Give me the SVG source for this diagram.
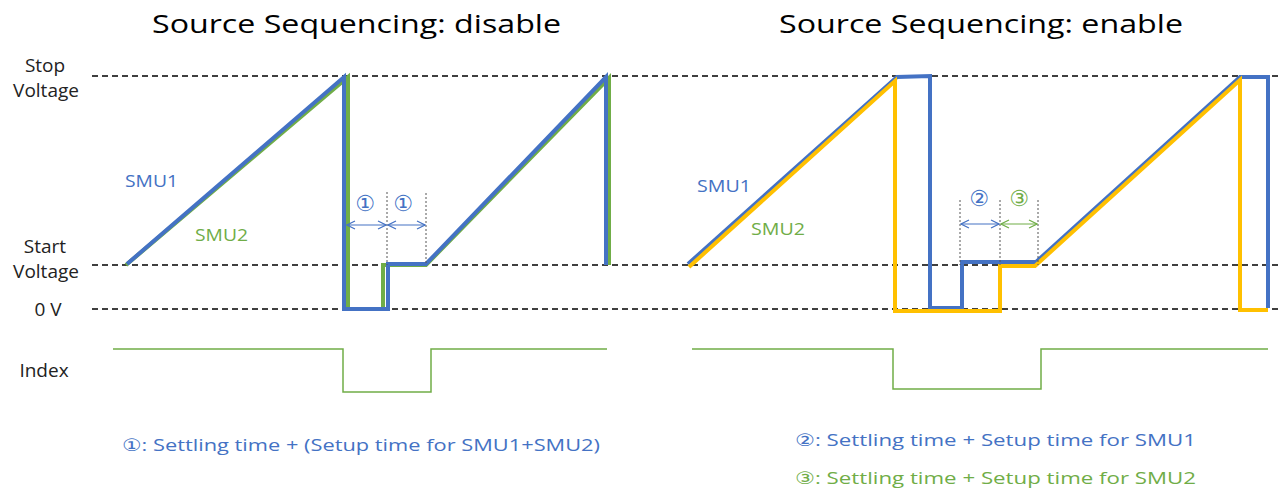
<svg xmlns="http://www.w3.org/2000/svg" width="1282" height="495" viewBox="0 0 1282 495">
<defs>
<style>
text{font-family:"Open Sans","Liberation Sans","DejaVu Sans","Noto Sans CJK JP",sans-serif;}
.title{font-size:26px;fill:#000;}
.lab{font-size:19px;fill:#222;text-anchor:middle;}
.smu{font-size:17px;}
.b{fill:#4472C4;}
.g{fill:#70AD47;}
.note{font-size:17px;}
.ref{stroke:#000;stroke-width:1.5;stroke-dasharray:6 4;fill:none;}
.wb{stroke:#4472C4;stroke-width:4;fill:none;stroke-linejoin:miter;}
.wg{stroke:#70AD47;stroke-width:4;fill:none;}
.wy{stroke:#FFC000;stroke-width:4;fill:none;}
.idx{stroke:#70AD47;stroke-width:1.5;fill:none;}
.dot{stroke:#555;stroke-width:1;stroke-dasharray:2 2;fill:none;}
.ab{stroke:#4472C4;stroke-width:1.2;fill:none;marker-start:url(#hb);marker-end:url(#hb);}
.ag{stroke:#70AD47;stroke-width:1.2;fill:none;marker-start:url(#hg);marker-end:url(#hg);}
.circ{font-size:22px;text-anchor:middle;font-family:"DejaVu Sans","Noto Sans CJK JP",sans-serif;}
</style>
<marker id="hb" viewBox="0 0 10 10" refX="9" refY="5" markerWidth="10" markerHeight="10" markerUnits="userSpaceOnUse" orient="auto-start-reverse"><path d="M1,1 L9,5 L1,9" fill="none" stroke="#4472C4" stroke-width="1.2"/></marker>
<marker id="hg" viewBox="0 0 10 10" refX="9" refY="5" markerWidth="10" markerHeight="10" markerUnits="userSpaceOnUse" orient="auto-start-reverse"><path d="M1,1 L9,5 L1,9" fill="none" stroke="#70AD47" stroke-width="1.2"/></marker>
</defs>
<rect width="1282" height="495" fill="#fff"/>

<g id="titles">
<text class="title" x="152" y="33" textLength="409" lengthAdjust="spacingAndGlyphs">Source Sequencing: disable</text>
<text class="title" x="779" y="33" textLength="404" lengthAdjust="spacingAndGlyphs">Source Sequencing: enable</text>
</g>

<g id="axis-labels">
<text class="lab" x="45" y="72">Stop</text>
<text class="lab" x="46" y="97">Voltage</text>
<text class="lab" x="45" y="253">Start</text>
<text class="lab" x="46" y="278">Voltage</text>
<text class="lab" x="48" y="316">0 V</text>
<text class="lab" x="44" y="377">Index</text>
</g>

<g id="reference-lines">
<line class="ref" x1="92" y1="76" x2="1282" y2="76"/>
<line class="ref" x1="92" y1="265" x2="1282" y2="265"/>
<line class="ref" x1="92" y1="309" x2="1282" y2="309"/>
</g>

<g id="left-waveforms">
<polyline class="wg" points="126,265 348,77 348,309 383,309 383,265 426,265 609,78 609,265"/>
<polyline class="wb" points="127,264 344,77 344,309 388,309 388,264 426,264 606,77 606,265"/>
<polyline class="idx" points="113,349 343,349 343,392 431,392 431,349 607,349"/>
<text class="smu b" x="125" y="187" textLength="53" lengthAdjust="spacingAndGlyphs">SMU1</text>
<text class="smu g" x="195" y="241" textLength="53" lengthAdjust="spacingAndGlyphs">SMU2</text>
</g>

<g id="right-waveforms">
<polyline class="wb" points="688,264 897,77 930,76 930,308 962,308 962,262 1036,262 1240,77 1268,77 1268,308"/>
<polyline class="wy" points="689,267 895,81 895,311 1000,311 1000,266 1035,266 1240,80 1240,310 1268,310"/>
<polyline class="idx" points="692,349 893,349 893,389 1041,389 1041,349 1268,349"/>
<text class="smu b" x="697" y="192" textLength="54" lengthAdjust="spacingAndGlyphs">SMU1</text>
<text class="smu g" x="751" y="235" textLength="54" lengthAdjust="spacingAndGlyphs">SMU2</text>
</g>

<g id="connectors">
<line class="dot" x1="387" y1="192" x2="387" y2="265"/>
<line class="dot" x1="426" y1="193" x2="426" y2="265"/>
<line class="ab" x1="347" y1="225" x2="386" y2="225"/>
<line class="ab" x1="388" y1="225" x2="425" y2="225"/>
<line class="dot" x1="960" y1="200" x2="960" y2="265"/>
<line class="dot" x1="1000" y1="200" x2="1000" y2="265"/>
<line class="dot" x1="1038" y1="200" x2="1038" y2="265"/>
<line class="ab" x1="961" y1="224" x2="999" y2="224"/>
<line class="ag" x1="1001" y1="224" x2="1037" y2="224"/>
</g>

<g id="interval-labels">
<text class="circ b" x="365" y="211">①</text>
<text class="circ b" x="403" y="211">①</text>
<text class="circ b" x="979" y="206">②</text>
<text class="circ g" x="1019" y="206">③</text>
</g>

<g id="legend">
<text class="note b" x="122" y="451" textLength="478" lengthAdjust="spacingAndGlyphs">①: Settling time + (Setup time for SMU1+SMU2)</text>
<text class="note b" x="795" y="446" textLength="401" lengthAdjust="spacingAndGlyphs">②: Settling time + Setup time for SMU1</text>
<text class="note g" x="795" y="484" textLength="401" lengthAdjust="spacingAndGlyphs">③: Settling time + Setup time for SMU2</text>
</g>
</svg>
